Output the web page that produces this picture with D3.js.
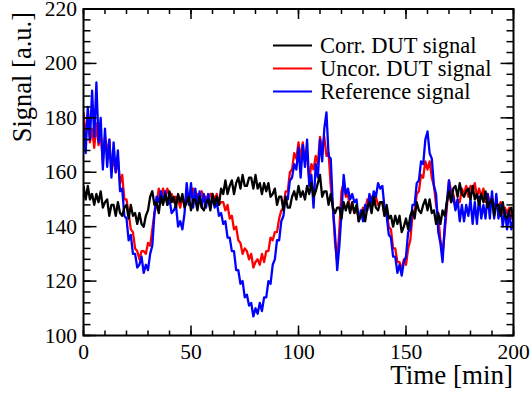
<!DOCTYPE html>
<html><head><meta charset="utf-8">
<script src="https://cdn.jsdelivr.net/npm/d3@7"></script>
<style>body{margin:0;background:#fff}svg{display:block}</style>
</head><body><svg id="c" width="531" height="400"></svg>
<script>
// time in minutes, one sample per minute (0..200)
const corrDUT = [155,150,155,150,152,148,152,149,153,147,149,150,144,148,148,144,149,145,144,147,
148,143,148,144,145,141,145,141,140,144,146,151,153,148,149,145,151,148,152,148,
153,149,151,147,152,149,152,147,149,151,146,150,150,146,151,147,146,149,150,146,
152,148,151,148,154,152,157,152,155,157,152,156,158,154,159,155,155,158,158,154,
159,154,156,152,156,153,156,151,152,154,148,151,151,146,151,147,147,151,153,150,
155,151,153,150,155,152,156,151,153,156,159,151,153,153,148,152,147,145,147,147,
143,149,146,149,145,149,145,148,142,144,146,142,147,149,145,151,147,146,149,149,
144,148,143,144,140,144,141,144,138,140,143,139,144,146,143,149,146,145,148,150,
146,150,145,146,141,145,141,146,144,149,153,149,154,155,151,156,152,151,153,154,
150,155,150,152,148,152,149,153,147,149,150,144,148,148,144,149,144,143,146,147,142];
const uncorDUT = [182,173,181,171,176,169,178,170,174,164,173,167,172,161,165,160,165,156,159,150,
150,145,139,138,132,131,128,131,131,130,134,133,139,145,148,154,151,154,151,154,
151,152,149,151,150,147,151,148,151,152,151,154,150,152,150,153,150,151,149,152,
152,150,152,148,149,149,146,148,143,144,139,140,135,134,130,132,131,128,130,125,
127,128,126,130,127,131,131,136,135,138,138,143,146,147,153,153,160,161,167,165,
171,165,171,164,166,157,163,161,166,163,173,168,173,166,167,155,147,134,127,139,
153,156,151,152,146,148,145,147,143,145,147,146,150,148,151,148,151,148,149,149,
144,145,140,139,132,132,127,127,124,128,126,132,135,144,145,152,153,159,158,164,
161,164,158,155,148,144,135,130,138,147,157,153,152,147,150,149,154,152,155,151,
155,153,156,151,154,151,154,149,152,149,151,147,149,147,149,145,147,145,147,143,145];
const refSignal = [178,167,184,172,190,173,193,171,180,161,176,162,172,158,171,160,168,153,154,144,
143,135,137,130,130,125,126,129,123,126,124,130,133,145,151,149,153,149,153,148,
150,145,146,148,140,142,139,145,156,148,156,147,154,148,153,147,152,147,152,147,
151,147,149,144,145,141,142,136,136,131,131,124,124,119,120,114,115,111,112,107,
110,108,112,109,114,114,120,119,126,128,135,135,142,144,151,150,157,158,163,161,
169,158,170,162,172,155,159,147,163,158,172,164,176,182,166,165,147,137,124,133,
145,159,152,154,150,152,149,150,142,146,142,148,146,152,148,153,151,156,154,155,
147,144,137,136,129,129,123,126,122,127,129,138,139,148,148,156,157,164,163,172,
175,167,165,155,152,138,134,127,140,149,157,149,151,146,150,142,148,142,148,144,
150,141,149,141,151,143,148,143,152,143,153,143,152,143,148,140,146,139,145,139,143];
const seriesNames = ["Corr. DUT signal","Uncor. DUT signal","Reference signal"];
const seriesColors = ["#000000","#ff0000","#0000ff"];
const xTicks = [0,50,100,150,200];
const yTicks = [100,120,140,160,180,200,220];

const FONT = "Liberation Serif, Times New Roman, Times, DejaVu Serif, serif";
const svg = d3.select("#c").attr("font-family", FONT);
const L=83.5, R=513.5, T=9, B=335.5;
const x = d3.scaleLinear().domain([0,200]).range([L,R]);
const y = d3.scaleLinear().domain([100,220]).range([B,T]);

const series = [uncorDUT, refSignal, corrDUT];
const cols = [seriesColors[1], seriesColors[2], seriesColors[0]];
const line = d3.line().x((d,i)=>x(i)).y(d=>y(d));
svg.append("clipPath").attr("id","cp").append("rect").attr("x",L).attr("y",T).attr("width",R-L).attr("height",B-T);
series.forEach((s,k)=>{
  svg.append("path").attr("d",line(s)).attr("fill","none").attr("stroke",cols[k])
    .attr("stroke-width",2.3).attr("stroke-linejoin","round").attr("clip-path","url(#cp)");
});

// axes (major + minor ticks on all four sides)
const xMinor = d3.range(0,201,10), yMinor = d3.range(100,221,4);
function addTicks(g, vals, scale, orient, len){
  vals.forEach(v=>{
    const p=scale(v);
    if(orient==="b") g.append("line").attr("x1",p).attr("x2",p).attr("y1",B).attr("y2",B-len);
    if(orient==="t") g.append("line").attr("x1",p).attr("x2",p).attr("y1",T).attr("y2",T+len);
    if(orient==="l") g.append("line").attr("y1",p).attr("y2",p).attr("x1",L).attr("x2",L+len);
    if(orient==="r") g.append("line").attr("y1",p).attr("y2",p).attr("x1",R).attr("x2",R-len);
  });
}
const tg = svg.append("g").attr("stroke","#000").attr("stroke-width",1.5);
addTicks(tg, xMinor, x, "b", 5); addTicks(tg, xTicks, x, "b", 10);
addTicks(tg, xMinor, x, "t", 5); addTicks(tg, xTicks, x, "t", 10);
addTicks(tg, yMinor, y, "l", 7); addTicks(tg, yTicks, y, "l", 13);
addTicks(tg, yMinor, y, "r", 7); addTicks(tg, yTicks, y, "r", 13);
svg.append("rect").attr("x",L).attr("y",T).attr("width",R-L).attr("height",B-T)
  .attr("fill","none").attr("stroke","#000").attr("stroke-width",2);

// tick labels
svg.append("g").selectAll("text").data(xTicks).join("text")
  .attr("font-family",FONT)
  .attr("x",d=>x(d)).attr("y",358.5).attr("text-anchor","middle")
  .attr("font-size",21.5).text(d=>d);
svg.append("g").selectAll("text").data(yTicks).join("text")
  .attr("font-family",FONT)
  .attr("x",77).attr("y",d=>y(d)+7).attr("text-anchor","end")
  .attr("font-size",21.5).text(d=>d);

// axis titles
svg.append("text").attr("font-family",FONT).attr("x",513).attr("y",384).attr("text-anchor","end")
  .attr("font-size",27).text("Time [min]");
svg.append("text").attr("font-family",FONT).attr("transform","translate(31,12) rotate(-90)").attr("text-anchor","end")
  .attr("font-size",26.5).text("Signal [a.u.]");

// legend
const leg = svg.append("g");
seriesNames.forEach((n,i)=>{
  const yy = 45.5 + i*23;
  leg.append("line").attr("x1",273).attr("x2",312).attr("y1",yy).attr("y2",yy)
    .attr("stroke",seriesColors[i]).attr("stroke-width",2);
  leg.append("text").attr("font-family",FONT).attr("x",320).attr("y",yy+7).attr("font-size",22.5).text(n);
});
</script></body></html>
